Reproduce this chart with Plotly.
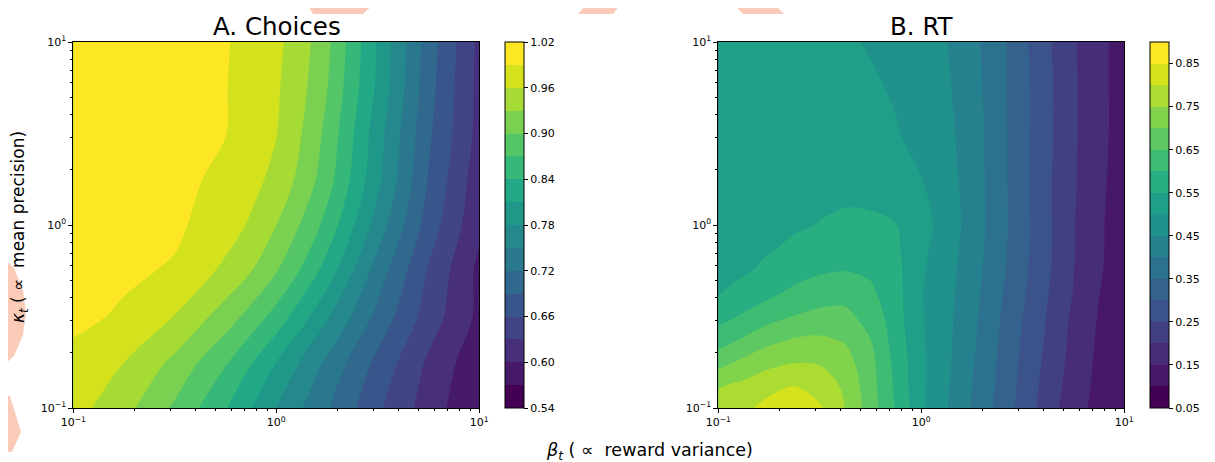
import plotly.graph_objects as go
import math

W, H = 1215, 462
OFF = 8  # page body margin of the browser; positions below are screen pixels

# ---------------- data ----------------
# Panel A: P(correct choice); grid in log10 units
log_beta_a = [-1, -0.75, -0.5, -0.25, -0.125, 0, 0.125, 0.25, 0.5, 0.75, 1]
log_kappa_a = [-1, -0.75, -0.5, -0.25, 0, 0.25, 0.5, 0.75, 1]
choices = [
    [0.972, 0.940, 0.895, 0.842, 0.812, 0.780, 0.751, 0.723, 0.665, 0.616, 0.571],
    [0.982, 0.960, 0.923, 0.873, 0.842, 0.810, 0.777, 0.744, 0.682, 0.625, 0.579],
    [0.997, 0.986, 0.959, 0.916, 0.889, 0.858, 0.822, 0.784, 0.711, 0.646, 0.593],
    [0.999, 0.995, 0.987, 0.953, 0.931, 0.902, 0.867, 0.827, 0.736, 0.657, 0.593],
    [1.000, 0.998, 0.995, 0.975, 0.956, 0.930, 0.897, 0.860, 0.767, 0.676, 0.606],
    [1.000, 0.999, 0.996, 0.985, 0.970, 0.951, 0.921, 0.883, 0.787, 0.688, 0.612],
    [1.000, 0.999, 0.997, 0.9905, 0.976, 0.961, 0.930, 0.892, 0.793, 0.695, 0.620],
    [1.000, 1.000, 0.998, 0.991, 0.979, 0.964, 0.938, 0.901, 0.804, 0.701, 0.621],
    [1.000, 1.000, 0.998, 0.992, 0.981, 0.967, 0.943, 0.907, 0.807, 0.705, 0.623],
]

# Panel B: RT
log_beta_b = [-1, -0.875, -0.75, -0.625, -0.5, -0.375, -0.25, -0.125, 0,
              0.125, 0.25, 0.375, 0.5, 0.625, 0.75, 0.875, 1]
log_kappa_b = [-1, -0.875, -0.75, -0.625, -0.5, -0.375, -0.25, -0.125, 0,
               0.25, 0.5, 0.75, 1]
rt = [
    [0.770, 0.790, 0.815, 0.832, 0.805, 0.749, 0.675, 0.596, 0.511, 0.452, 0.395, 0.339, 0.282, 0.222, 0.171, 0.133, 0.115],
    [0.745, 0.760, 0.785, 0.798, 0.780, 0.740, 0.670, 0.590, 0.510, 0.457, 0.400, 0.345, 0.286, 0.229, 0.177, 0.137, 0.117],
    [0.680, 0.712, 0.735, 0.748, 0.745, 0.720, 0.665, 0.585, 0.510, 0.460, 0.405, 0.348, 0.290, 0.235, 0.182, 0.140, 0.118],
    [0.625, 0.655, 0.685, 0.703, 0.708, 0.695, 0.650, 0.578, 0.507, 0.462, 0.410, 0.352, 0.295, 0.241, 0.186, 0.143, 0.120],
    [0.582, 0.607, 0.632, 0.652, 0.662, 0.660, 0.635, 0.570, 0.505, 0.463, 0.413, 0.357, 0.300, 0.245, 0.190, 0.147, 0.121],
    [0.548, 0.567, 0.590, 0.613, 0.630, 0.637, 0.610, 0.568, 0.503, 0.465, 0.418, 0.362, 0.307, 0.251, 0.198, 0.151, 0.123],
    [0.530, 0.545, 0.560, 0.577, 0.593, 0.599, 0.592, 0.565, 0.507, 0.468, 0.423, 0.368, 0.312, 0.256, 0.201, 0.155, 0.124],
    [0.530, 0.538, 0.547, 0.556, 0.566, 0.573, 0.574, 0.558, 0.512, 0.473, 0.426, 0.371, 0.316, 0.259, 0.203, 0.157, 0.125],
    [0.530, 0.535, 0.540, 0.546, 0.551, 0.556, 0.557, 0.551, 0.518, 0.479, 0.429, 0.373, 0.317, 0.259, 0.203, 0.157, 0.125],
    [0.535, 0.535, 0.536, 0.538, 0.540, 0.540, 0.535, 0.522, 0.501, 0.469, 0.428, 0.372, 0.316, 0.258, 0.206, 0.161, 0.126],
    [0.535, 0.533, 0.530, 0.526, 0.521, 0.515, 0.509, 0.503, 0.485, 0.462, 0.426, 0.372, 0.316, 0.261, 0.207, 0.163, 0.130],
    [0.530, 0.528, 0.525, 0.521, 0.516, 0.510, 0.505, 0.496, 0.477, 0.457, 0.421, 0.370, 0.316, 0.261, 0.207, 0.163, 0.130],
    [0.530, 0.528, 0.525, 0.520, 0.513, 0.505, 0.497, 0.481, 0.466, 0.451, 0.415, 0.369, 0.313, 0.257, 0.206, 0.163, 0.130],
]

choice_ticks = [0.54, 0.60, 0.66, 0.72, 0.78, 0.84, 0.90, 0.96, 1.02]
rt_ticks = [0.05, 0.15, 0.25, 0.35, 0.45, 0.55, 0.65, 0.75, 0.85]
axis_ticks = [-1, 0, 1]
axis_ticktext = ["10<sup>\u22121</sup>", "10<sup>0</sup>", "10<sup>1</sup>"]

# ---------------- styling helpers ----------------
VIR = ["#440154", "#471365", "#482475", "#463480", "#414487", "#3b528b", "#355f8d",
       "#2f6c8e", "#2a788e", "#25848e", "#21918c", "#1e9c89", "#22a884", "#2fb47c",
       "#44bf70", "#5ec962", "#7ad151", "#9bd93c", "#bddf26", "#dfe318", "#fde725"]


def _rgb(h):
    h = h.lstrip('#')
    return [int(h[i:i + 2], 16) for i in (0, 2, 4)]


def viridis(t):
    t = min(max(t, 0.0), 1.0) * 20
    i = min(int(t), 19)
    f = t - i
    a, b = _rgb(VIR[i]), _rgb(VIR[i + 1])
    return 'rgb(%d,%d,%d)' % tuple(round(x + (y - x) * f) for x, y in zip(a, b))


def step_scale(n):
    cs = []
    for i in range(n):
        c = viridis(i / (n - 1))
        cs.append([i / n, c])
        cs.append([(i + 1) / n, c])
    return cs


def px(x):
    return (x - OFF) / W


def py(y):
    return 1 - (y - OFF) / H


FONT = "DejaVu Sans"
minor_vals = [k + math.log10(m) for k in (-1, 0) for m in range(2, 10)]

# screen-pixel layout measured on the reference
ax_top, ax_bot = 42, 408
A_left, A_right = 73.3, 479.3
B_left, B_right = 718.3, 1124.3
cbA_x, cbB_x = 505, 1150


def colorbar(x, ticks):
    return dict(
        x=px(x), xanchor='left', xpad=0, ypad=0,
        y=py((ax_top + ax_bot) / 2), yanchor='middle',
        len=(ax_bot - ax_top) / H, lenmode='fraction',
        thickness=19, thicknessmode='pixels',
        outlinewidth=1, outlinecolor='black',
        tickvals=ticks, tickformat='.2f', ticks='outside', ticklen=4,
        tickcolor='black', tickfont=dict(family=FONT, size=11, color='black'),
    )


fig = go.Figure()
fig.add_trace(go.Contour(
    x=log_beta_a, y=log_kappa_a, z=choices, xaxis='x', yaxis='y',
    autocontour=False,
    contours=dict(start=0.54, end=1.02, size=0.03, coloring='fill', showlines=False),
    zmin=0.54, zmax=1.0200001, colorscale=step_scale(16),
    line=dict(width=0, smoothing=1),
    colorbar=colorbar(cbA_x, choice_ticks), hoverinfo='skip',
))
fig.add_trace(go.Contour(
    x=log_beta_b, y=log_kappa_b, z=rt, xaxis='x2', yaxis='y2',
    autocontour=False,
    contours=dict(start=0.05, end=0.90, size=0.05, coloring='fill', showlines=False),
    zmin=0.05, zmax=0.9000001, colorscale=step_scale(17),
    line=dict(width=0, smoothing=1),
    colorbar=colorbar(cbB_x, rt_ticks), hoverinfo='skip',
))


def axis(domain, anchor):
    return dict(
        domain=domain, anchor=anchor, range=[-1, 1], type='linear',
        tickmode='array', tickvals=axis_ticks, ticktext=axis_ticktext,
        ticks='outside', ticklen=4, tickwidth=1, tickcolor='black',
        tickfont=dict(family=FONT, size=11, color='black'),
        minor=dict(tickmode='array', tickvals=minor_vals, ticks='outside',
                   ticklen=2, tickwidth=0.8, tickcolor='black'),
        showline=True, mirror=True, linecolor='black', linewidth=1,
        showgrid=False, zeroline=False, fixedrange=True, automargin=False,
    )


ydom = [py(ax_bot), py(ax_top)]
fig.update_layout(
    width=W, height=H,
    margin=dict(l=0, r=0, t=0, b=0, pad=0, autoexpand=False),
    paper_bgcolor='white', plot_bgcolor='white',
    xaxis=axis([px(A_left), px(A_right)], 'y'),
    yaxis=axis(ydom, 'x'),
    xaxis2=axis([px(B_left), px(B_right)], 'y2'),
    yaxis2=axis(ydom, 'x2'),
    showlegend=False,
    font=dict(family=FONT, color='black'),
)

# faint peach watermark fragments visible around the figure edges
PEACH = 'rgb(249,203,184)'


def poly(points):
    return 'M ' + ' L '.join('%.5f,%.5f' % (px(x), py(y)) for x, y in points) + ' Z'


marks = [
    [(305, 0), (378, 0), (363, 14), (313, 14)],
    [(590, 0), (624, 0), (613, 14), (578, 14)],
    [(729, 0), (770, 0), (784, 14), (743, 14)],
    [(0, 255), (14, 268), (23, 290), (26, 312), (23, 335), (14, 356), (0, 368)],
    [(0, 396), (10, 396), (21, 432), (12, 452), (0, 452)],
]
shapes = [dict(type='path', path=poly(m), xref='paper', yref='paper',
               fillcolor=PEACH, line=dict(width=0), layer='below') for m in marks]
fig.update_layout(shapes=shapes)

ann = [
    dict(text="A. Choices", x=px(276.5), y=py(26), font=dict(size=24.5)),
    dict(text="B. RT", x=px(922), y=py(26), font=dict(size=24.5)),
    dict(text="<i>\u03b2</i><sub><i>t</i></sub> ( \u221d  reward variance)",
         x=px(649), y=py(451), font=dict(size=17.5)),
    dict(text="<i>\u03ba</i><sub><i>t</i></sub> ( \u221d  mean precision)",
         x=px(19), y=py(227), textangle=-90, font=dict(size=17)),
]
for a in ann:
    a.update(xref='paper', yref='paper', showarrow=False,
             xanchor='center', yanchor='middle')
    a['font'].update(family=FONT, color='black')
fig.update_layout(annotations=ann)

fig.write_html("out.html")
